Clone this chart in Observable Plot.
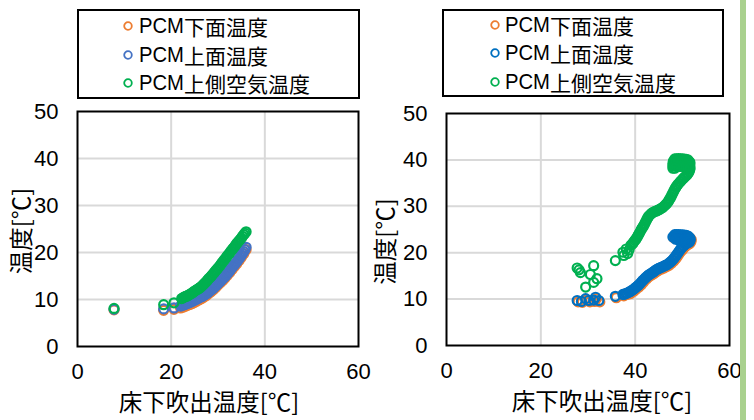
<!DOCTYPE html>
<html><head><meta charset="utf-8">
<script src="https://cdn.jsdelivr.net/npm/d3@7"></script>
<script src="https://cdn.jsdelivr.net/npm/@observablehq/plot@0.6"></script>
<style>
body{margin:0;background:#fff;}
#wrap{position:relative;width:754px;height:420px;overflow:hidden;background:#fff;}
.panel{position:absolute;top:0;width:377px;height:420px;}
.legend{position:absolute;border:2px solid #000;box-sizing:border-box;background:#fff;}
.row{position:absolute;height:28px;display:flex;align-items:center;white-space:nowrap;font-family:"Noto Sans CJK JP";font-size:21px;color:#000;line-height:28px;}
.row .pcm{font-family:"Liberation Sans",sans-serif;font-size:22px;display:inline-block;transform:scaleX(0.92);transform-origin:left center;margin-right:-4px;}
.mk{position:absolute;}
.bar{position:absolute;left:740px;top:0;width:6px;height:420px;background:#a9d18e;}
</style></head><body><div id="wrap"></div>
<script>
const seriesNames = ["PCM下面温度", "PCM上面温度", "PCM上側空気温度"];
const leftColors = ["#ED7D31", "#4472C4", "#00B050"];
const rightColors = ["#ED7D31", "#0070C0", "#00B050"];
const xTicks = [0, 20, 40, 60];
const yTicks = [0, 10, 20, 30, 40, 50];
const xLabel = "床下吹出温度[℃]";
const yLabel = "温度[℃]";

const leftOrange = [[7.8,7.8],[18.4,7.7],[20.6,7.9],[22,8.2],[22.5,8.35],[23,8.55],[23.5,8.75],[24,8.95],[24.5,9.15],[25,9.4],[25.5,9.65],[26,9.95],[26.5,10.2],[27,10.5],[27.5,10.85],[28,11.25],[28.5,11.65],[29,12.05],[29.5,12.55],[30,13.05],[30.5,13.55],[31,14.05],[31.5,14.55],[32,15.15],[32.5,15.75],[33,16.4],[33.5,17.0],[34,17.6],[34.5,18.3],[35,19.0],[35.5,19.75],[36,20.6]];
const leftBlue = [[7.8,7.9],[18.4,8.0],[20.6,8.2],[22,8.6],[22.25,8.7],[22.5,8.8],[22.75,8.9],[23,9.0],[23.25,9.1],[23.5,9.2],[23.75,9.3],[24,9.4],[24.25,9.5],[24.5,9.6],[24.75,9.75],[25,9.9],[25.25,10.0],[25.5,10.1],[25.75,10.25],[26,10.4],[26.25,10.5],[26.5,10.6],[26.75,10.75],[27,10.9],[27.25,11.05],[27.5,11.2],[27.75,11.4],[28,11.6],[28.25,11.8],[28.5,12.0],[28.75,12.2],[29,12.4],[29.25,12.65],[29.5,12.9],[29.75,13.15],[30,13.4],[30.25,13.65],[30.5,13.9],[30.75,14.15],[31,14.4],[31.25,14.65],[31.5,14.9],[31.75,15.2],[32,15.5],[32.25,15.8],[32.5,16.1],[32.75,16.45],[33,16.8],[33.25,17.1],[33.5,17.4],[33.75,17.7],[34,18.0],[34.25,18.35],[34.5,18.7],[34.75,19.05],[35,19.4],[35.25,19.8],[35.5,20.2],[35.75,20.6],[36,21.1]];
const leftGreen = [[7.8,8.1],[18.4,8.9],[20.6,9.3],[22.25,10.2],[22.5,10.35],[22.75,10.5],[23,10.6],[23.25,10.7],[23.5,10.8],[23.75,10.95],[24,11.1],[24.25,11.25],[24.5,11.4],[24.75,11.6],[25,11.8],[25.25,11.95],[25.5,12.1],[25.75,12.25],[26,12.4],[26.25,12.6],[26.5,12.8],[26.75,13.05],[27,13.3],[27.25,13.55],[27.5,13.8],[27.75,14.1],[28,14.4],[28.25,14.65],[28.5,14.9],[28.75,15.2],[29,15.5],[29.25,15.8],[29.5,16.1],[29.75,16.4],[30,16.7],[30.25,17.0],[30.5,17.3],[30.75,17.65],[31,18.0],[31.25,18.3],[31.5,18.6],[31.75,18.95],[32,19.3],[32.25,19.6],[32.5,19.9],[32.75,20.25],[33,20.6],[33.25,20.9],[33.5,21.2],[33.75,21.55],[34,21.9],[34.25,22.2],[34.5,22.5],[34.75,22.8],[35,23.1],[35.25,23.45],[35.5,23.8],[35.75,24.1],[36,24.4]];

const rightOrange = [[27.9,9.4],[28.8,9.3],[29.7,9.8],[30.4,9.4],[31.4,9.5],[31.8,10.1],[32.5,9.4],[36.0,10.3],[37.6,10.7],[38.3,11.0],[39.0,11.2],[39.7,11.7],[40.2,12.1],[40.8,12.6],[41.3,13.1],[41.8,13.7],[42.4,14.3],[42.9,14.8],[43.5,15.2],[44.0,15.5],[44.5,15.9],[45.0,16.2],[45.6,16.5],[46.1,16.7],[46.7,17.0],[47.2,17.3],[47.7,17.7],[48.2,18.2],[48.6,18.7],[48.9,19.1],[49.3,19.7],[49.6,20.2],[50.0,20.6],[50.3,21.0],[50.7,21.4],[51.1,21.7],[51.5,21.9],[51.8,22.3],[51.9,22.8],[51.6,23.2],[51.1,23.5],[50.5,23.6],[49.9,23.6],[49.3,23.7],[48.7,23.6],[48.2,23.2]];
const rightBlue = [[27.7,9.7],[28.6,9.5],[29.5,10.1],[30.2,9.7],[31.2,9.8],[31.6,10.4],[32.3,9.7],[35.8,10.6],
  [37.4,11.0],[37.7,11.05],[38.0,11.2],[38.3,11.3],[38.6,11.45],[38.9,11.6],[39.2,11.8],[39.5,12.0],[39.8,12.2],[40.1,12.5],[40.4,12.75],[40.7,13.0],[41.0,13.3],[41.3,13.65],[41.6,14.0],[41.9,14.3],[42.2,14.6],[42.5,14.9],[42.8,15.15],[43.1,15.35],[43.4,15.55],[43.7,15.75],[44.0,15.95],[44.3,16.2],[44.6,16.4],[44.9,16.55],[45.2,16.7],[45.5,16.85],[45.8,16.95],[46.1,17.1],[46.4,17.25],[46.7,17.4],[47.0,17.6],[47.3,17.85],[47.6,18.1],[47.9,18.4],[48.2,18.75],[48.5,19.15],[48.8,19.55],[49.1,20.0],[49.4,20.45],[49.7,20.85],[50.0,21.2],[50.3,21.5],[50.6,21.8],[50.9,22.0],[51.2,22.2],[51.5,22.5],
  [48.4,23.9],[48.8,23.9],[49.2,23.9],[49.6,23.85],[50.0,23.85],[50.4,23.8],[50.8,23.75],[51.2,23.6],
  [48.0,23.4],[48.4,23.4],[48.8,23.4],[49.2,23.4],[49.6,23.4],[50.0,23.4],[50.4,23.4],[50.8,23.4],[51.2,23.3],[51.6,23.2],
  [48.6,22.9],[49.0,22.9],[49.4,22.9],[49.8,22.9],[50.2,22.9],[50.6,22.9],[51.0,22.9],[51.4,22.9],[51.7,22.8],
  [49.6,22.4],[50.0,22.4],[50.4,22.4],[50.8,22.4],[51.2,22.4],[51.5,22.3]];
const rightGreen = [[27.7,16.7],[28.4,15.7],[28.1,16.3],[31.2,17.2],[30.5,15.3],[31.9,14.4],[31.2,13.6],[29.5,12.6],
  [35.8,18.3],[37.4,20.1],[37.6,19.4],[38.1,20.8],[38.4,19.8],[38.7,20.6],[39.1,21.6],
  [39.3,21.8],[39.5,22.0],[39.7,22.3],[39.9,22.6],[40.1,22.85],[40.3,23.1],[40.5,23.5],[40.7,23.9],[40.9,24.2],[41.1,24.6],[41.3,25.0],[41.5,25.35],[41.7,25.65],[41.9,26.0],[42.1,26.4],[42.3,26.8],[42.5,27.2],[42.7,27.6],[42.9,27.9],[43.2,28.2],[43.5,28.5],[43.8,28.7],[44.1,28.85],[44.4,28.95],[44.7,29.1],[45.0,29.25],[45.3,29.4],[45.6,29.6],[45.9,29.8],[46.2,30.1],[46.5,30.4],[46.8,30.7],[47.0,31.0],[47.2,31.35],[47.4,31.7],[47.6,32.05],[47.8,32.5],[48.0,32.9],[48.2,33.3],[48.4,33.7],[48.6,34.05],[48.8,34.35],[49.0,34.65],[49.3,35.0],[49.6,35.35],[49.9,35.7],[50.2,36.0],[50.5,36.3],[50.8,36.6],[51.1,36.9],[51.3,37.2],[51.5,37.6],[51.6,38.0],
  [48.4,40.2],[48.8,40.25],[49.2,40.3],[49.6,40.25],[50.0,40.2],[50.4,40.15],[50.8,40.1],[51.2,40.0],
  [48.1,39.7],[48.5,39.7],[48.9,39.7],[49.3,39.7],[49.7,39.7],[50.1,39.7],[50.5,39.7],[50.9,39.7],[51.3,39.65],[51.6,39.5],
  [48.0,39.2],[48.4,39.2],[48.8,39.2],[49.2,39.2],[49.6,39.2],[50.0,39.2],[50.4,39.2],[50.8,39.2],[51.2,39.2],[51.6,39.1],
  [48.0,38.7],[48.4,38.7],[48.8,38.7],[49.2,38.6],[49.6,38.6],[50.0,38.6],[50.4,38.6],[50.8,38.6],[51.2,38.6],[51.6,38.6],
  [48.0,38.2],[48.4,38.2],[51.2,38.2],[51.6,38.2]];

const numFont = '"Liberation Sans",sans-serif';
const cjkFont = '"Noto Sans CJK JP", sans-serif';

function makePanel(series, colors, m, lab) {
  const marks = [
    Plot.gridX([20, 40], {stroke: "#d9d9d9", strokeOpacity: 1, strokeWidth: 2}),
    Plot.gridY([10, 20, 30, 40], {stroke: "#d9d9d9", strokeOpacity: 1, strokeWidth: 2}),
  ];
  series.forEach((s, i) => {
    marks.push(Plot.dot(s, {x: d => d[0], y: d => d[1], r: 4.5, stroke: colors[i], strokeWidth: 2.2, fill: "none"}));
  });
  marks.push(
    Plot.frame({stroke: "#000", strokeWidth: 2}),
    Plot.axisX(xTicks, {tickSize: 0, tickPadding: 17, label: null, fontSize: 22, fontFamily: numFont}),
    Plot.axisY(yTicks, {tickSize: 0, tickPadding: 19, label: null, fontSize: 22, fontFamily: numFont}),
    Plot.text([xLabel], {frameAnchor: "bottom", dx: lab.xdx, dy: lab.xdy, textAnchor: "middle", lineAnchor: "middle", fontSize: 23.5, fontFamily: cjkFont, fill: "#000"}),
    Plot.text([yLabel], {frameAnchor: "left", dx: lab.ydx, dy: lab.ydy, rotate: -90, textAnchor: "middle", lineAnchor: "middle", fontSize: 23.5, fontFamily: cjkFont, fill: "#000"})
  );
  return Plot.plot({
    width: 377, height: 420,
    marginLeft: m[0], marginRight: m[1], marginTop: m[2], marginBottom: m[3],
    x: {domain: [0, 60]},
    y: {domain: [0, 50]},
    style: {background: "transparent", color: "#000", overflow: "visible"},
    marks
  });
}

function makeLegend(panelEl, colors, box, mx, tx, rows) {
  const lg = document.createElement("div");
  lg.className = "legend";
  lg.style.left = box[0] + "px"; lg.style.top = box[1] + "px";
  lg.style.width = box[2] + "px"; lg.style.height = box[3] + "px";
  panelEl.appendChild(lg);
  seriesNames.forEach((name, i) => {
    const mk = document.createElementNS("http://www.w3.org/2000/svg", "svg");
    mk.setAttribute("class", "mk");
    mk.setAttribute("width", 12); mk.setAttribute("height", 12);
    mk.style.left = (mx - 6) + "px"; mk.style.top = (rows[i] - 6) + "px";
    const c = document.createElementNS("http://www.w3.org/2000/svg", "circle");
    c.setAttribute("cx", 6); c.setAttribute("cy", 6); c.setAttribute("r", 3.8);
    c.setAttribute("fill", "none"); c.setAttribute("stroke", colors[i]); c.setAttribute("stroke-width", 1.8);
    mk.appendChild(c);
    panelEl.appendChild(mk);
    const r = document.createElement("div");
    r.className = "row";
    r.style.left = tx + "px"; r.style.top = (rows[i] - 14) + "px";
    r.innerHTML = '<span class="pcm">PCM</span><span>' + name.slice(3) + '</span>';
    panelEl.appendChild(r);
  });
}

const wrap = document.getElementById("wrap");
const p1 = document.createElement("div"); p1.className = "panel"; p1.style.left = "0px";
const p2 = document.createElement("div"); p2.className = "panel"; p2.style.left = "377px";
wrap.appendChild(p1); wrap.appendChild(p2);
p1.appendChild(makePanel([leftOrange, leftBlue, leftGreen], leftColors, [77, 19, 111, 74], {xdx: -9, xdy: 57, ydx: -55, ydy: 2}));
p2.appendChild(makePanel([rightOrange, rightBlue, rightGreen], rightColors, [69, 25, 113, 75], {xdx: 14, xdy: 57, ydx: -60, ydy: 12}));
p1.querySelector("svg").style.position = "absolute";
p2.querySelector("svg").style.position = "absolute";
makeLegend(p1, leftColors, [77, 9, 283, 90], 128, 139, [26, 55, 83]);
makeLegend(p2, rightColors, [65, 9, 282, 88], 118, 128, [25, 53, 82]);
const bar = document.createElement("div"); bar.className = "bar"; wrap.appendChild(bar);
</script>
</body></html>
